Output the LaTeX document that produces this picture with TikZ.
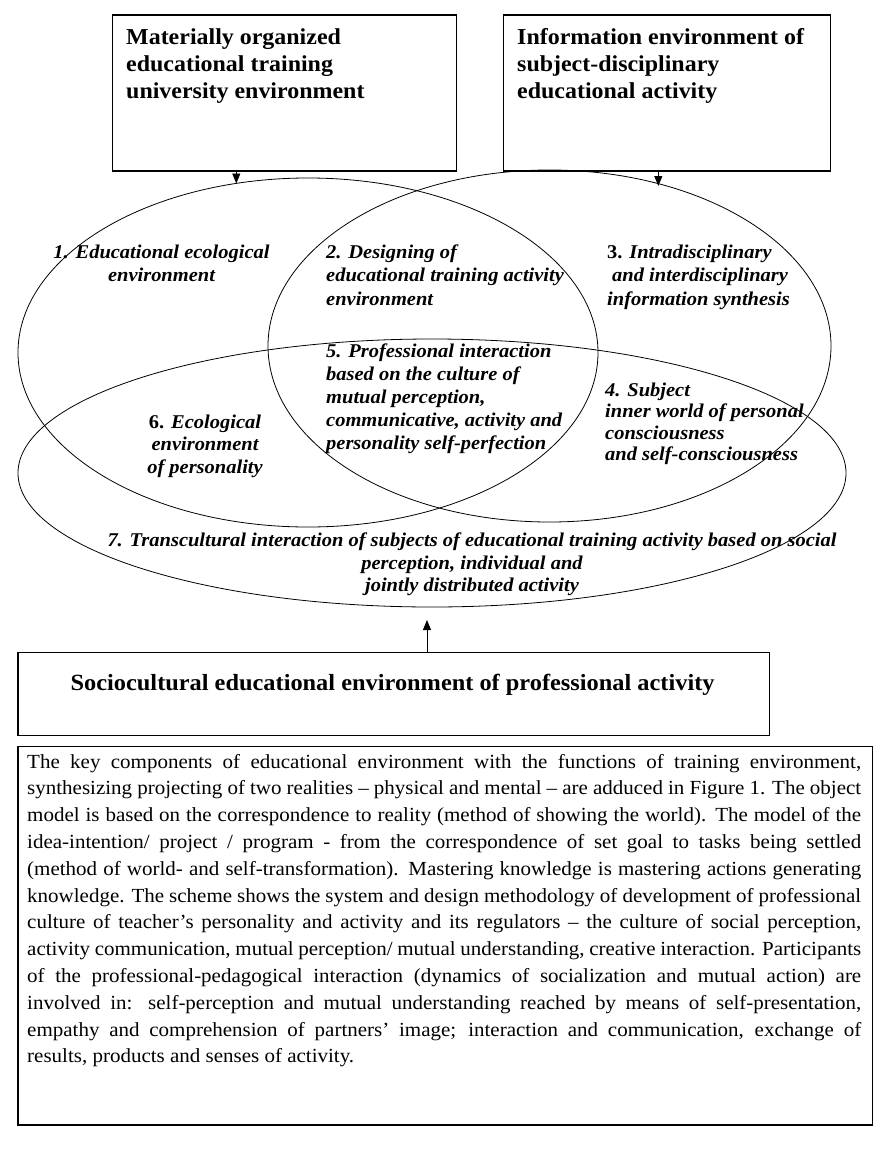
\documentclass[tikz,border=0pt]{standalone}
\usepackage{fontspec}
\setmainfont{Liberation Serif}[FakeStretch=1.05]
\usetikzlibrary{arrows.meta,shapes.geometric}
\begin{document}
\begin{tikzpicture}[x=1pt,y=-1pt,
  box/.style={draw, line width=1.2pt, inner sep=0pt, anchor=north west},
  ring/.style={draw, ellipse, line width=0.8pt, inner sep=0pt},
  ttl/.style={font=\bfseries\fontsize{22.8}{26.7}\selectfont, inner sep=0pt, align=left, anchor=base west},
  lbl/.style={font=\bfseries\itshape\fontsize{19.5}{22.7}\selectfont, inner sep=0pt},
  arr/.style={line width=0.9pt, -{Triangle[length=10pt,width=8pt]}}]
\useasboundingbox (0,0) rectangle (880,1165);
% boxes
\node[box, minimum width=344.3, minimum height=156] (b1) at (111.7,14.3) {};
\node[box, minimum width=327, minimum height=156] (b2) at (503,14.3) {};
\node[box, minimum width=751.7, minimum height=83.3] (b3) at (17.3,651.7) {};
\node[box, minimum width=854.4, minimum height=378.3] (b4) at (17.3,746) {};
% ellipses
\node[ring, minimum width=580, minimum height=349] (e1) at (308,352.5) {};
\node[ring, minimum width=563, minimum height=352] (e2) at (549.5,346) {};
\node[ring, minimum width=828, minimum height=268] (e3) at (432,473) {};
% arrows
\coordinate (t1) at (236.3,183.5);
\coordinate (t2) at (658.3,186);
\coordinate (t3) at (427,620);
\draw[arr] (b1.south -| t1) -- (t1);
\draw[arr] (b2.south -| t2) -- (t2);
\draw[arr] (b3.north -| t3) -- (t3);
% titles (anchored at the baseline of the last line)
\node[ttl] (h1) at (126,98.3) {Materially organized\\educational training\\university environment};
\node[ttl] (h2) at (517,98.3) {Information environment of\\subject-disciplinary\\educational activity};
\node[ttl, anchor=base, font=\bfseries\fontsize{23.2}{26.7}\selectfont] (h3) at (392.6,690) {Sociocultural educational environment of professional activity};
% labels (anchored at the baseline of the last line)
\node[lbl, align=center, anchor=base] (l1) at (161.5,281) {1. Educational ecological\\environment};
\node[lbl, align=left, anchor=base west, font=\bfseries\itshape\fontsize{19.5}{23.3}\selectfont] (l2) at (326,305) {2. Designing of\\educational training activity\\environment};
\node[lbl, align=left, anchor=base west, font=\bfseries\itshape\fontsize{19.5}{23.3}\selectfont] (l3) at (607,305) {\textup{3.} Intradisciplinary\\\hspace*{5pt}and interdisciplinary\\information synthesis};
\node[lbl, align=left, anchor=base west, font=\bfseries\itshape\fontsize{19.5}{23}\selectfont] (l5) at (326,449) {5. Professional interaction\\based on the culture of\\mutual perception,\\communicative, activity and\\personality self-perfection};
\node[lbl, align=left, anchor=base west, font=\bfseries\itshape\fontsize{19.5}{21.2}\selectfont] (l4) at (605,460.3) {4. Subject\\inner world of personal\\consciousness\\and self-consciousness};
\node[lbl, align=center, anchor=base, font=\bfseries\itshape\fontsize{19.5}{22.5}\selectfont] (l6) at (205,473) {\textup{6.} Ecological\\environment\\of personality};
\node[lbl, align=center, anchor=base, font=\bfseries\itshape\fontsize{19.5}{22.5}\selectfont] (l7) at (472,591.7) {7. Transcultural interaction of subjects of educational training activity based on social\\perception, individual and\\jointly distributed activity};
% paragraph
\node[anchor=base west, text width=834pt, align=justify, inner sep=0pt,
  font=\fontsize{20}{26.8}\selectfont] (para) at (27,768) {\hyphenpenalty=10000 \exhyphenpenalty=10000 \tolerance=10000 %
The key components of educational environment with the functions of training environment,\linebreak
synthesizing projecting of two realities – physical and mental – are adduced in Figure 1. The object\linebreak
model is based on the correspondence to reality (method of showing the world). The model of the\linebreak
idea-intention/ project / program - from the correspondence of set goal to tasks being settled\linebreak
(method of world- and self-transformation). Mastering knowledge is mastering actions generating\linebreak
knowledge. The scheme shows the system and design methodology of development of professional\linebreak
culture of teacher’s personality and activity and its regulators – the culture of social perception,\linebreak
activity communication, mutual perception/ mutual understanding, creative interaction. Participants\linebreak
of the professional-pedagogical interaction (dynamics of socialization and mutual action) are\linebreak
involved in: self-perception and mutual understanding reached by means of self-presentation,\linebreak
empathy and comprehension of partners’ image; interaction and communication, exchange of\linebreak
results, products and senses of activity.};
\end{tikzpicture}
\end{document}
